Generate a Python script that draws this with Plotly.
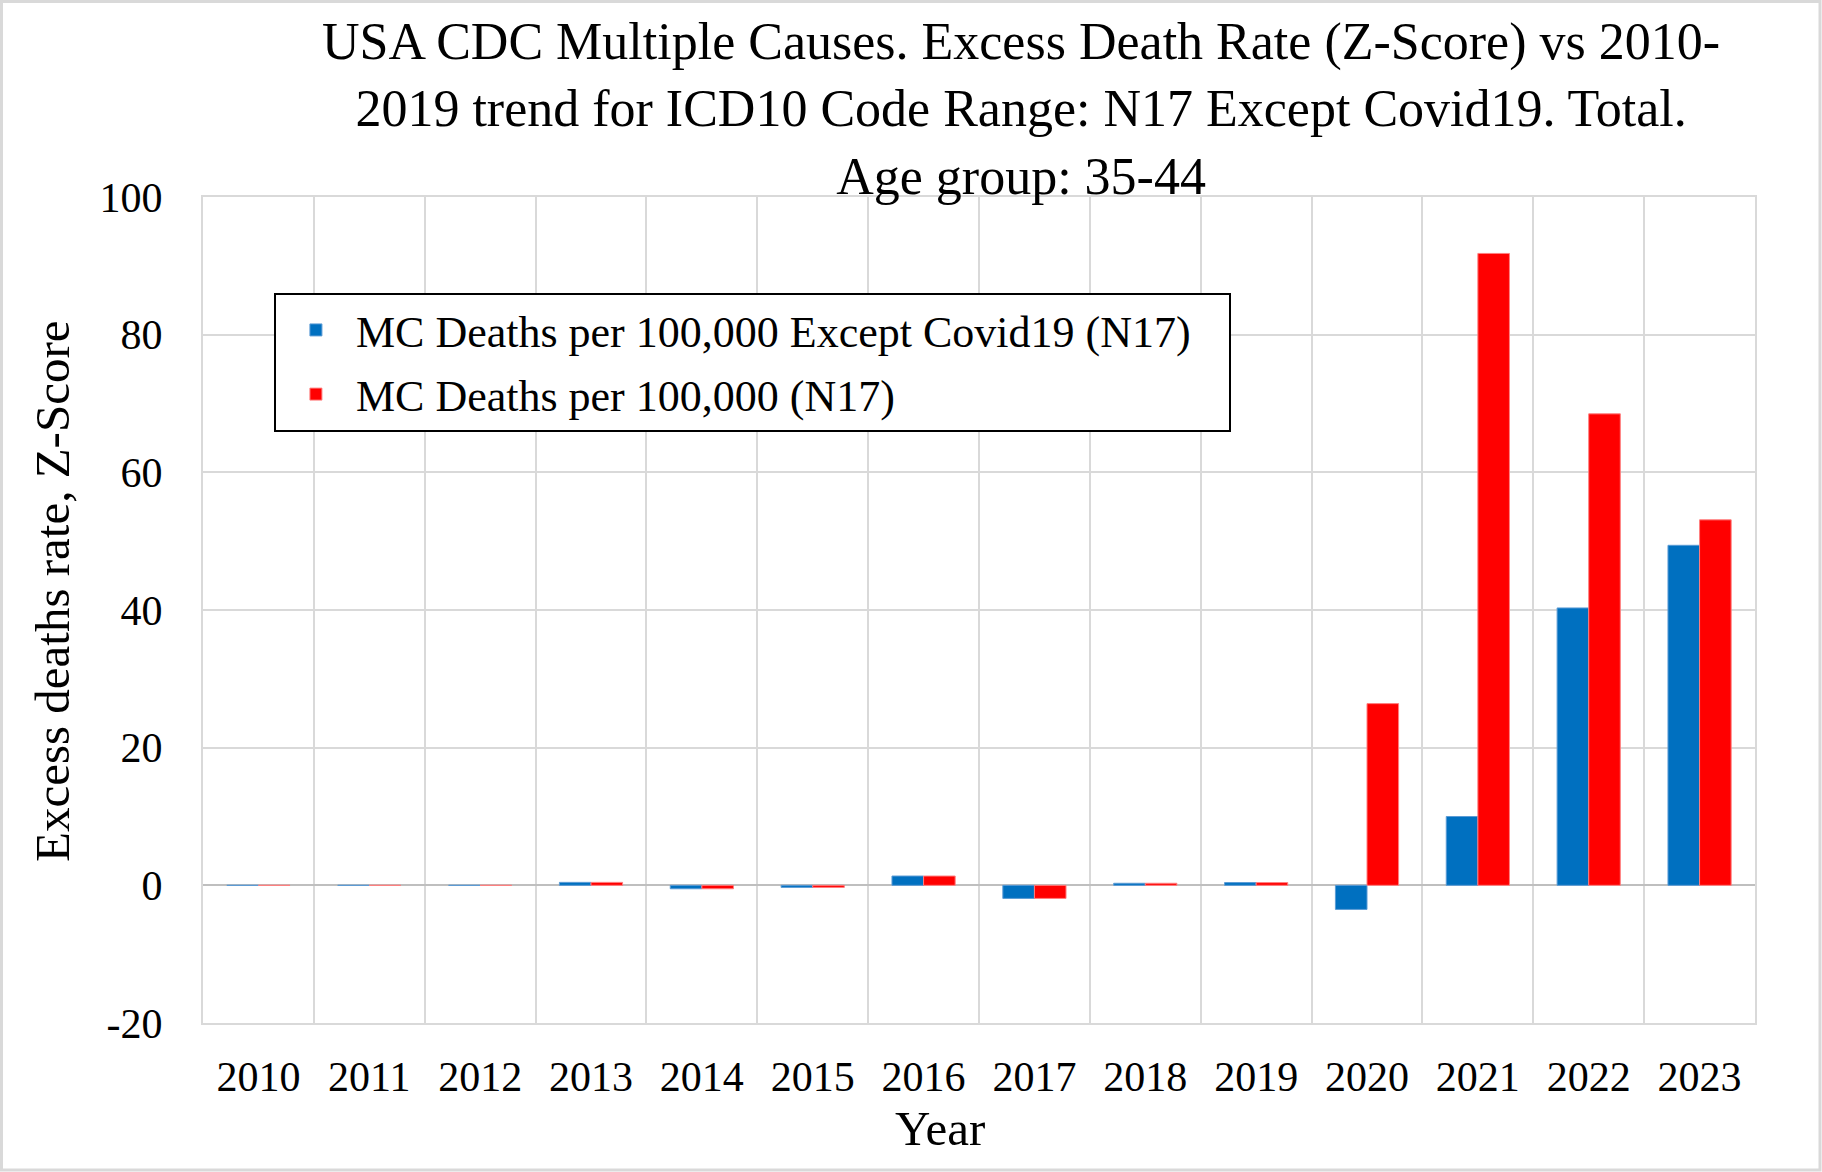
import plotly.graph_objects as go


# ── Data ───────────────────────────────────────────────────────────────────
YEARS = ["2010", "2011", "2012", "2013", "2014", "2015", "2016",
         "2017", "2018", "2019", "2020", "2021", "2022", "2023"]
EXCEPT_COVID = [0.0, 0.0, 0.0, 0.43, -0.5, -0.3, 1.35,
                -1.9, 0.3, 0.4, -3.5, 10.0, 40.3, 49.4]
ALL_N17 = [0.0, 0.0, 0.0, 0.43, -0.5, -0.3, 1.35,
           -1.9, 0.3, 0.4, 26.4, 91.8, 68.5, 53.1]
Y_TICKS = [-20, 0, 20, 40, 60, 80, 100]
Y_TICK_TEXT = ["-20", "0", "20", "40", "60", "80", "100"]

NAME_EXCEPT = "MC Deaths per 100,000 Except Covid19 (N17)"
NAME_ALL = "MC Deaths per 100,000 (N17)"
TITLE = ("USA CDC Multiple Causes. Excess Death Rate (Z-Score) vs 2010-<br>"
         "2019 trend for ICD10 Code Range: N17 Except Covid19. Total.<br>"
         "Age group: 35-44")
X_TITLE = "Year"
Y_TITLE = "Excess deaths rate, Z-Score"

# ── Styling ────────────────────────────────────────────────────────────────
BLUE = "#0070C0"
RED = "#FF0000"
GRID = "#D9D9D9"
ZERO = "#BFBFBF"
FONT = "Liberation Serif, Times New Roman, serif"
PAD = "\u00a0" * 3  # extra room on the right of the legend box

W, H = 1822, 1172
M_L, M_R, M_T, M_B = 203, 67, 197, 149
PLOT_W = W - M_L - M_R
PLOT_H = H - M_T - M_B


def px_to_paper(x_px, y_px):
    """Page pixel position -> paper coordinates of the plot area."""
    return (x_px - M_L) / PLOT_W, (H - M_B - y_px) / PLOT_H


fig = go.Figure()
fig.add_trace(go.Bar(
    x=YEARS, y=EXCEPT_COVID, name=NAME_EXCEPT + PAD, legendgroup="a",
    marker=dict(color=BLUE, line=dict(color="#5B9BD5", width=1)),
))
fig.add_trace(go.Bar(
    x=YEARS, y=ALL_N17, name=NAME_ALL, legendgroup="b",
    marker=dict(color=RED, line=dict(color="#FF7F7F", width=1)),
))

fig.update_layout(
    width=W, height=H,
    margin=dict(l=M_L, r=M_R, t=M_T, b=M_B),
    paper_bgcolor="white", plot_bgcolor="white",
    font=dict(family=FONT, size=42, color="black"),
    barmode="group", bargap=0.43, bargroupgap=0,
    title=dict(text=TITLE, x=0.5604, xanchor="center", y=0.950, yanchor="top",
               font=dict(size=52)),
    legend=dict(
        x=0.0457, y=0.884, xanchor="left", yanchor="top",
        bgcolor="white", bordercolor="black", borderwidth=2,
        font=dict(size=44), itemwidth=70,
        traceorder="grouped", tracegroupgap=4,
    ),
    xaxis=dict(
        type="category", tickson="boundaries", ticks="", ticklabelstandoff=16,
        showgrid=True, gridcolor=GRID, gridwidth=2,
        showline=True, linecolor=GRID, linewidth=2, mirror=True,
    ),
    yaxis=dict(
        range=[-20, 100], tickvals=Y_TICKS, ticktext=Y_TICK_TEXT,
        ticks="", ticklabelstandoff=30,
        showgrid=True, gridcolor=GRID, gridwidth=2,
        zeroline=True, zerolinecolor=ZERO, zerolinewidth=2,
        showline=True, linecolor=GRID, linewidth=2, mirror=True,
    ),
)

# axis titles placed like the original (slightly off-centre)
xt_x, xt_y = px_to_paper(940, 1128)
yt_x, yt_y = px_to_paper(52, 591)
fig.add_annotation(text=X_TITLE, x=xt_x, y=xt_y, xref="paper", yref="paper",
                   xanchor="center", yanchor="middle", showarrow=False,
                   font=dict(size=49))
fig.add_annotation(text=Y_TITLE, x=yt_x, y=yt_y, xref="paper", yref="paper",
                   xanchor="center", yanchor="middle", showarrow=False,
                   textangle=-90, font=dict(size=49))

# light chart-area frame around the whole picture
fx0, fy0 = px_to_paper(1.5, H - 2)
fx1, fy1 = px_to_paper(W - 2, 1.5)
fig.add_shape(
    type="rect", xref="paper", yref="paper", layer="below",
    x0=fx0, x1=fx1, y0=fy0, y1=fy1,
    line=dict(color=GRID, width=3), fillcolor="rgba(0,0,0,0)",
)

fig.write_html(
    "out.html",
    config={"displayModeBar": False},
    post_script="document.body.style.margin = '0px';",
)
